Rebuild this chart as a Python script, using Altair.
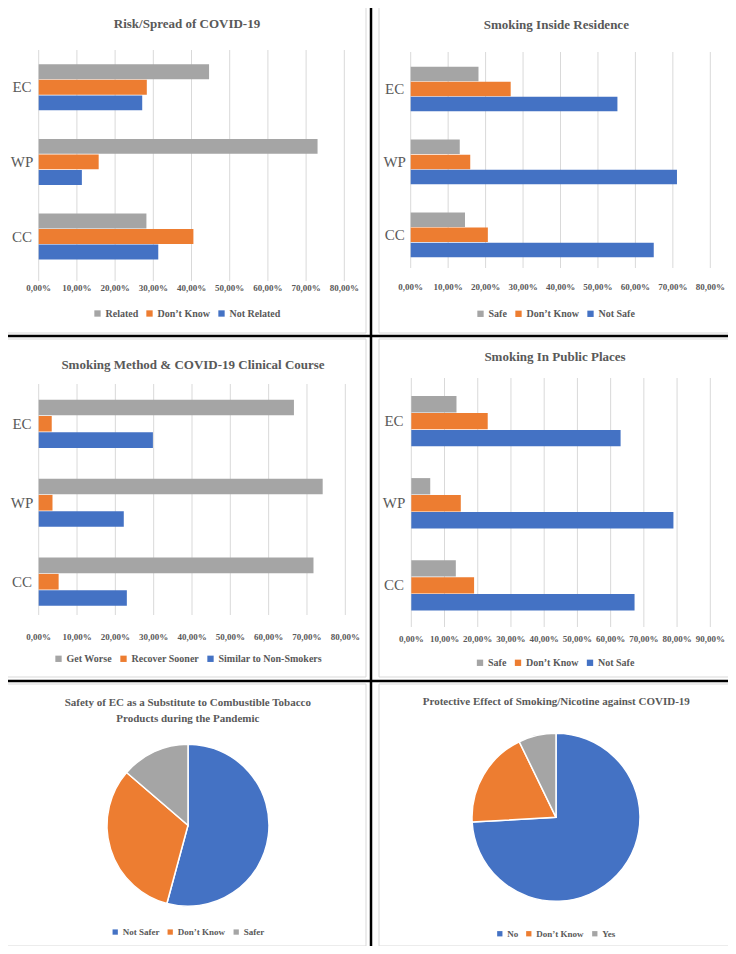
import altair as alt
import pandas as pd

# ---------------- data ----------------
categories = ["EC", "WP", "CC"]

risk_series = ["Related", "Don’t Know", "Not Related"]
risk_related = [44.6, 73.0, 28.2]
risk_dontknow = [28.3, 15.7, 40.5]
risk_notrelated = [27.1, 11.3, 31.3]

res_series = ["Safe", "Don’t Know", "Not Safe"]
res_safe = [18.1, 13.1, 14.5]
res_dontknow = [26.7, 15.9, 20.6]
res_notsafe = [55.2, 71.1, 64.9]

course_series = ["Get Worse", "Recover Sooner", "Similar to Non-Smokers"]
course_worse = [66.6, 74.1, 71.7]
course_sooner = [3.4, 3.6, 5.2]
course_similar = [29.8, 22.2, 23.0]

public_series = ["Safe", "Don’t Know", "Not Safe"]
public_safe = [13.6, 5.7, 13.4]
public_dontknow = [23.0, 14.9, 18.9]
public_notsafe = [63.0, 78.9, 67.2]

ticks_80 = [0, 10, 20, 30, 40, 50, 60, 70, 80]
ticks_90 = [0, 10, 20, 30, 40, 50, 60, 70, 80, 90]

pie1_labels = ["Not Safer", "Don’t Know", "Safer"]
pie1_values = [54.2, 32.1, 13.7]
pie2_labels = ["No", "Don’t Know", "Yes"]
pie2_values = [74.1, 18.7, 7.2]

titles = [
    "Risk/Spread of COVID-19",
    "Smoking Inside Residence",
    "Smoking Method & COVID-19 Clinical Course",
    "Smoking In Public Places",
    "Safety of EC as a Substitute to Combustible Tobacco\nProducts during the Pandemic",
    "Protective Effect of Smoking/Nicotine against COVID-19",
]

# ---------------- style ----------------
OFF = 8
FONT = "Liberation Serif"
TXT = "#595959"
GRID = "#D9D9D9"
GRAY, ORANGE, BLUE = "#A5A5A5", "#ED7D31", "#4472C4"


def px(v):
    return v - OFF


def legend(lx, ly, size=10, sym=40):
    return alt.Legend(
        orient="none", legendX=px(lx), legendY=px(ly), direction="horizontal",
        title=None, symbolType="square", symbolSize=sym, symbolStrokeWidth=0,
        labelFont=FONT, labelFontSize=size, labelFontWeight="bold", labelColor=TXT,
        columnPadding=6, labelOffset=3, padding=0,
    )


def title_layer(text, x, y, size=13):
    return alt.Chart(pd.DataFrame({"t": [text]})).mark_text(
        font=FONT, fontSize=size, fontWeight="bold", color=TXT, lineBreak="\n", lineHeight=16
    ).encode(x=alt.value(px(x)), y=alt.value(px(y)), text="t:N")


def bar_panel(series, cols, colors, ticks, x0, x1, ytop, ybot, pad,
              grid_top, grid_bot, tick_y, cat_x, title, title_xy, leg_xy):
    rows = []
    for s, vals in zip(series, cols):
        for c, v in zip(categories, vals):
            rows.append({"cat": c, "series": s, "value": v})
    df = pd.DataFrame(rows)
    xs = alt.Scale(domain=[ticks[0], ticks[-1]], range=[px(x0), px(x1)], nice=False, zero=False)
    ys = alt.Scale(domain=categories, range=[px(ytop), px(ybot)],
                   paddingInner=pad, paddingOuter=pad / 2)
    tick_df = pd.DataFrame({"t": ticks,
                            "label": [f"{t:.2f}%".replace(".", ",") for t in ticks]})
    grid = alt.Chart(tick_df).mark_rule(color=GRID, strokeWidth=1).encode(
        x=alt.X("t:Q", scale=xs, axis=None),
        y=alt.value(px(grid_top)), y2=alt.value(px(grid_bot)))
    tlabels = alt.Chart(tick_df).mark_text(
        font=FONT, fontSize=9, fontWeight="bold", color=TXT, baseline="middle"
    ).encode(x=alt.X("t:Q", scale=xs, axis=None), y=alt.value(px(tick_y)), text="label:N")
    bars = alt.Chart(df).mark_bar().encode(
        x=alt.X("value:Q", scale=xs, axis=None),
        y=alt.Y("cat:N", scale=ys, axis=None),
        yOffset=alt.YOffset("series:N", scale=alt.Scale(domain=series, paddingInner=0.04)),
        color=alt.Color("series:N", scale=alt.Scale(domain=series, range=colors),
                        legend=legend(*leg_xy)),
    )
    clabels = alt.Chart(pd.DataFrame({"cat": categories})).mark_text(
        font=FONT, fontSize=15, color=TXT, baseline="middle"
    ).encode(y=alt.Y("cat:N", scale=ys, axis=None), x=alt.value(px(cat_x)), text="cat:N")
    ttl = title_layer(title, *title_xy)
    return alt.layer(grid, bars, clabels, tlabels, ttl)


def pie_panel(labels, values, colors, cx, cy, r, title, title_xy, leg_xy):
    df = pd.DataFrame({"label": labels, "value": values, "order": list(range(len(labels)))})
    arc = alt.Chart(df).mark_arc(radius=r, stroke="white", strokeWidth=1.5).encode(
        theta=alt.Theta("value:Q", stack=True),
        order=alt.Order("order:Q"),
        color=alt.Color("label:N", scale=alt.Scale(domain=labels, range=colors),
                        legend=legend(leg_xy[0], leg_xy[1], size=9, sym=28)),
        x=alt.value(px(cx)), y=alt.value(px(cy)),
    )
    ttl = title_layer(title, *title_xy, size=11)
    return alt.layer(arc, ttl)


one = pd.DataFrame({"k": [0]})


def frame(x0, y0, x1, y1):
    return alt.Chart(one).mark_rect(fillOpacity=0, stroke=GRID, strokeWidth=1).encode(
        x=alt.value(px(x0)), x2=alt.value(px(x1)), y=alt.value(px(y0)), y2=alt.value(px(y1)))


def vline(x):
    return alt.Chart(one).mark_rule(color="black", strokeWidth=2.5).encode(
        x=alt.value(px(x)), y=alt.value(0), y2=alt.value(938))


def hline(y):
    return alt.Chart(one).mark_rule(color="black", strokeWidth=2.5).encode(
        y=alt.value(px(y)), x=alt.value(0), x2=alt.value(720))


frames = [frame(7, 3, 366, 333), frame(379, 3, 733, 333),
          frame(7, 339, 366, 677), frame(379, 339, 733, 677),
          frame(7, 684, 366, 946), frame(379, 684, 730, 946)]

p1 = bar_panel(risk_series, [risk_related, risk_dontknow, risk_notrelated],
               [GRAY, ORANGE, BLUE], ticks_80, 38.7, 344.3, 50.0, 273.8, 0.383,
               50, 281, 288, 22, titles[0], (187, 24), (92.5, 308.5))
p2 = bar_panel(res_series, [res_safe, res_dontknow, res_notsafe],
               [GRAY, ORANGE, BLUE], ticks_80, 410.7, 710.3, 52.5, 271.3, 0.388,
               52, 268, 287.3, 394.7, titles[1], (556.3, 25), (475.5, 308.8))
p3 = bar_panel(course_series, [course_worse, course_sooner, course_similar],
               [GRAY, ORANGE, BLUE], ticks_80, 38.7, 345.3, 384.3, 621.2, 0.389,
               384, 615, 636.7, 22, titles[2], (193, 365), (53.5, 653.8))
p4 = bar_panel(public_series, [public_safe, public_dontknow, public_notsafe],
               [GRAY, ORANGE, BLUE], ticks_90, 411.3, 710.3, 380.2, 626.3, 0.387,
               378, 627, 639.3, 394, titles[3], (555, 357.3), (475, 657.8))
p5 = pie_panel(pie1_labels, pie1_values, [BLUE, ORANGE, GRAY], 188, 825.3, 81,
               titles[4], (187.8, 703.3), (110.7, 927.3))
p6 = pie_panel(pie2_labels, pie2_values, [BLUE, ORANGE, GRAY], 556, 817.3, 84,
               titles[5], (556.3, 702.3), (495.3, 929))

chart = alt.layer(
    *frames, p1, p2, p3, p4, p5, p6, vline(371), hline(336), hline(681)
).resolve_scale(
    x="independent", y="independent", color="independent",
    theta="independent", yOffset="independent"
).properties(
    width=720, height=938, padding=0, autosize=alt.AutoSizeParams(type="none")
).configure_view(stroke=None)

chart.save("out.html", embed_options={"renderer": "svg", "actions": False})
